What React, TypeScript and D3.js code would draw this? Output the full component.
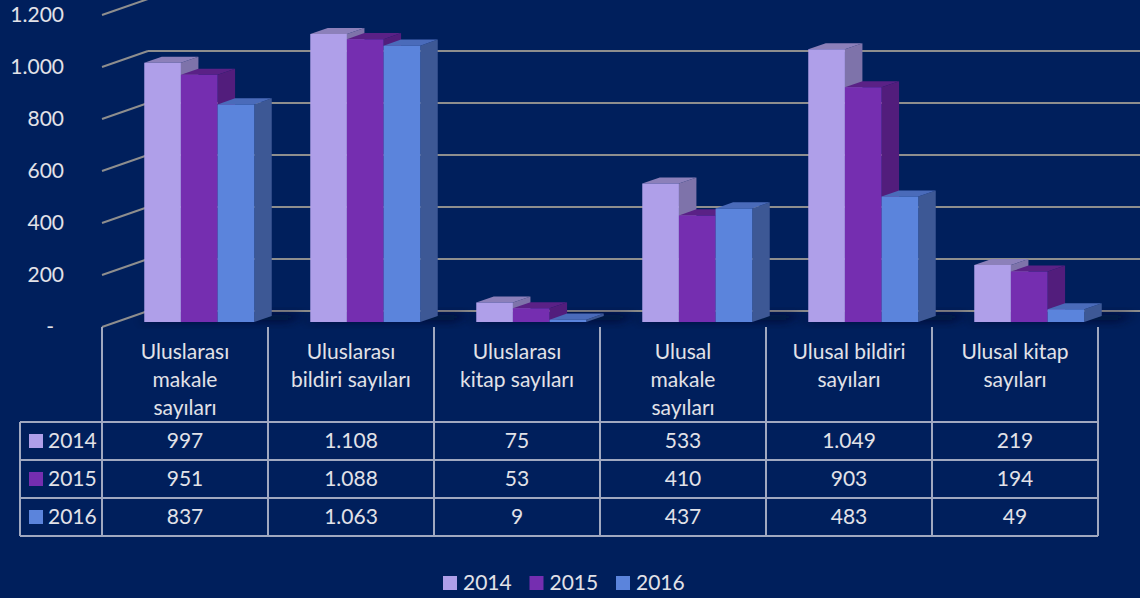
import React, { useEffect } from "react";
import * as d3 from "d3";

const categories = [
  "Uluslarası makale sayıları",
  "Uluslarası bildiri sayıları",
  "Uluslarası kitap sayıları",
  "Ulusal makale sayıları",
  "Ulusal bildiri sayıları",
  "Ulusal kitap sayıları",
];
const categoryLines = [
  ["Uluslarası", "makale", "sayıları"],
  ["Uluslarası", "bildiri sayıları"],
  ["Uluslarası", "kitap sayıları"],
  ["Ulusal", "makale", "sayıları"],
  ["Ulusal bildiri", "sayıları"],
  ["Ulusal kitap", "sayıları"],
];
const seriesNames = ["2014", "2015", "2016"];
const values2014 = [997, 1108, 75, 533, 1049, 219];
const values2015 = [951, 1088, 53, 410, 903, 194];
const values2016 = [837, 1063, 9, 437, 483, 49];
const yTicks = [0, 200, 400, 600, 800, 1000, 1200];

const seriesValues = [values2014, values2015, values2016];
const frontColors = ["#AF9FE9", "#752EB0", "#5B84DC"];
const topColors = ["#8C80BA", "#5A2186", "#4A6BBA"];
const sideColors = ["#7E73AA", "#521D7C", "#3D5895"];

const W = 1140;
const H = 598;
const BG = "#001F5C";
const GRID = "#8E8E8E";
const TXT = "#E2E2E8";
const TABLE = "#A0A8C0";
const FONT = "Lato, 'Open Sans', sans-serif";
const FS = 21;

const locale = d3.formatLocale({ decimal: ",", thousands: ".", grouping: [3], currency: ["", ""] });
const fmt = locale.format(",d");

export default function App() {
  useEffect(() => {
    document.body.style.margin = "0";
    document.body.style.background = BG;
  }, []);

  const y = d3.scaleLinear().domain([0, 1200]).range([327, 15]);
  const x = d3.scaleBand<string>().domain(categories).range([102, 1098]);
  const DX = 46;
  const DY = -16;
  const d0 = 0.31;
  const d1 = 0.69;
  const groupW = 110;
  const xs = d3.scaleBand<string>().domain(seriesNames).range([0, groupW]);
  const proj = (px: number, v: number, d: number): [number, number] => [px + d * DX, y(v) + d * DY];
  const pts = (arr: [number, number][]) => arr.map((p) => p.join(",")).join(" ");

  const rowTop = 422;
  const rowH = 38;
  const tableLeft = 20;
  const tableRight = 1098;

  return (
    <svg width={W} height={H} style={{ display: "block", background: BG }} fontFamily={FONT}>
      <defs>
        <filter id="blur" x="-20%" y="-100%" width="140%" height="300%">
          <feGaussianBlur stdDeviation="4" />
        </filter>
      </defs>
      <rect x={0} y={0} width={W} height={H} fill={BG} />
      {yTicks.map((t) => {
        const a = proj(102, t, 0);
        const b = proj(102, t, 1);
        return (
          <g key={t}>
            <line x1={a[0]} y1={a[1]} x2={b[0]} y2={b[1]} stroke={GRID} strokeWidth={2} />
            <line x1={b[0]} y1={b[1]} x2={W} y2={b[1]} stroke={GRID} strokeWidth={2} />
          </g>
        );
      })}
      {yTicks.map((t) => (
        <text
          key={"l" + t}
          x={t === 0 ? 54 : 64}
          y={y(t)}
          dy="0.35em"
          textAnchor="end"
          fontSize={FS}
          fill={TXT}
        >
          {t === 0 ? "-" : fmt(t)}
        </text>
      ))}
      {categories.map((c, i) => {
        const gx = (x(c) as number) + (x.bandwidth() - groupW) / 2;
        const a = proj(gx - 8, 0, d0 + 0.05);
        const b = proj(gx + groupW + 30, 0, d0 + 0.05);
        const cc = proj(gx + groupW + 30, 0, d1 + 0.1);
        const d = proj(gx - 8, 0, d1 + 0.1);
        return (
          <polygon key={"s" + c} points={pts([a, b, cc, d])} fill="#000A25" opacity={0.75} filter="url(#blur)" />
        );
      })}
      {categories.map((c, i) => {
        const gx = (x(c) as number) + (x.bandwidth() - groupW) / 2;
        return (
          <g key={"g" + c}>
            {seriesNames.map((s, k) => {
              const v = seriesValues[k][i];
              const xa = gx + (xs(s) as number);
              const xb = xa + xs.bandwidth();
              const front = pts([proj(xa, 0, d0), proj(xb, 0, d0), proj(xb, v, d0), proj(xa, v, d0)]);
              const top = pts([proj(xa, v, d0), proj(xb, v, d0), proj(xb, v, d1), proj(xa, v, d1)]);
              const side = pts([proj(xb, 0, d0), proj(xb, 0, d1), proj(xb, v, d1), proj(xb, v, d0)]);
              return (
                <g key={s}>
                  <polygon points={side} fill={sideColors[k]} />
                  <polygon points={top} fill={topColors[k]} />
                  <polygon points={front} fill={frontColors[k]} />
                </g>
              );
            })}
          </g>
        );
      })}
      <g stroke={TABLE} strokeWidth={2} fill="none">
        {d3.range(x.domain().length + 1).map((j) => {
          const xx = 102 + j * x.bandwidth();
          return <line key={"v" + j} x1={xx} y1={327} x2={xx} y2={rowTop + rowH * 3} />;
        })}
        <line x1={tableLeft} y1={rowTop} x2={tableLeft} y2={rowTop + rowH * 3} />
        {d3.range(4).map((r) => (
          <line key={"h" + r} x1={tableLeft} y1={rowTop + r * rowH} x2={tableRight} y2={rowTop + r * rowH} />
        ))}
      </g>
      {categories.map((c, i) => {
        const cx = (x(c) as number) + x.bandwidth() / 2;
        return (
          <text key={"h" + c} x={cx} textAnchor="middle" fontSize={FS} fill={TXT}>
            {categoryLines[i].map((ln, li) => (
              <tspan key={li} x={cx} y={352 + li * 28} dy="0.35em">
                {ln}
              </tspan>
            ))}
          </text>
        );
      })}
      {seriesNames.map((s, k) => {
        const cy = rowTop + k * rowH + rowH / 2;
        return (
          <g key={"r" + s}>
            <rect x={29} y={cy - 7} width={14} height={14} fill={frontColors[k]} />
            <text x={48} y={cy} dy="0.35em" fontSize={FS} fill={TXT}>
              {s}
            </text>
            {categories.map((c, i) => (
              <text
                key={c}
                x={(x(c) as number) + x.bandwidth() / 2}
                y={cy}
                dy="0.35em"
                textAnchor="middle"
                fontSize={FS}
                fill={TXT}
              >
                {fmt(seriesValues[k][i])}
              </text>
            ))}
          </g>
        );
      })}
      {seriesNames.map((s, k) => {
        const lx = 443 + k * 86.5;
        return (
          <g key={"lg" + s}>
            <rect x={lx} y={576} width={14} height={14} fill={frontColors[k]} />
            <text x={lx + 20} y={583} dy="0.35em" fontSize={FS} fill={TXT}>
              {s}
            </text>
          </g>
        );
      })}
    </svg>
  );
}
